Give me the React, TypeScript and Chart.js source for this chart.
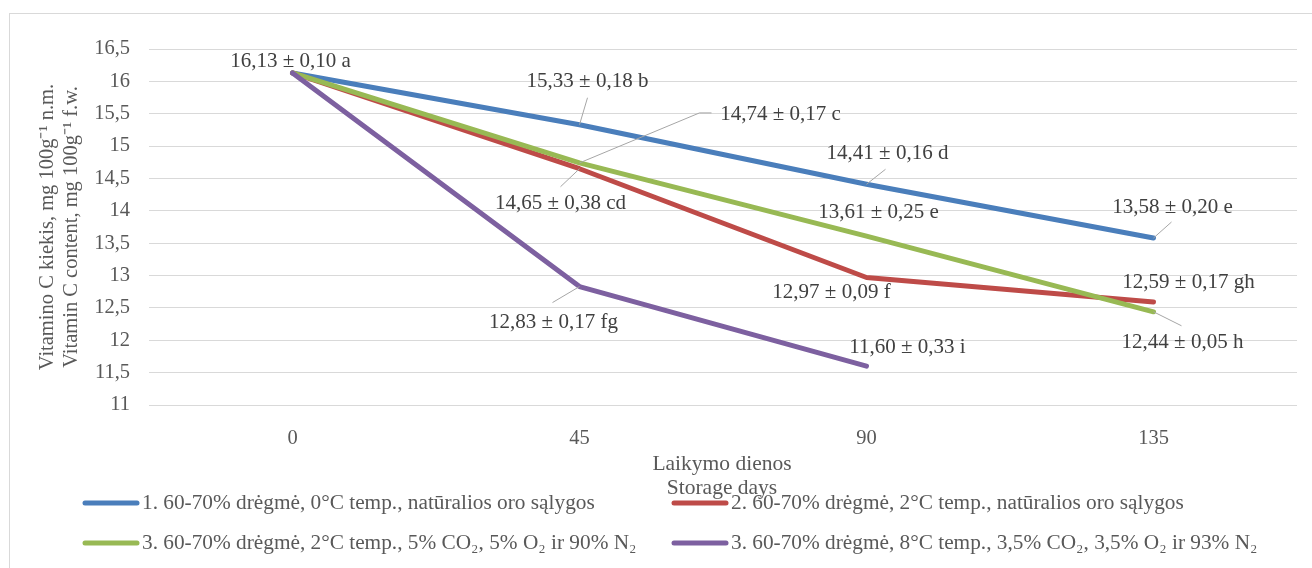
import React, { useEffect, useRef } from "react";
import { Chart, registerables } from "chart.js";

Chart.register(...registerables);

const categories = ["0", "45", "90", "135"];

const seriesNames = [
  "1. 60-70% drėgmė, 0°C temp., natūralios oro sąlygos",
  "2. 60-70% drėgmė, 2°C temp., natūralios oro sąlygos",
  "3. 60-70% drėgmė, 2°C temp., 5% CO₂, 5% O₂ ir 90% N₂",
  "3. 60-70% drėgmė, 8°C temp., 3,5% CO₂, 3,5% O₂ ir 93% N₂",
];

const series1 = [16.13, 15.33, 14.41, 13.58];
const series2 = [16.13, 14.65, 12.97, 12.59];
const series3 = [16.13, 14.74, 13.61, 12.44];
const series4 = [16.13, 12.83, 11.6, null];

const labels1 = ["16,13 ± 0,10 a", "15,33 ± 0,18 b", "14,41 ± 0,16 d", "13,58 ± 0,20 e"];
const labels2 = ["", "14,65 ± 0,38 cd", "12,97 ± 0,09 f", "12,59 ± 0,17 gh"];
const labels3 = ["", "14,74 ± 0,17 c", "13,61 ± 0,25 e", "12,44 ± 0,05 h"];
const labels4 = ["", "12,83 ± 0,17 fg", "11,60 ± 0,33 i", ""];

const yTicksMin = 11;
const yTicksMax = 16.5;
const yStep = 0.5;

const yTitle = ["Vitamino C kiekis, mg 100g⁻¹ n.m.", "Vitamin C content, mg 100g⁻¹ f.w."];
const xTitle = ["Laikymo dienos", "Storage days"];

const colors = ["#4a7ebb", "#be4b48", "#98b954", "#7d60a0"];

// label placement relative to data point (pixels): [series, index, dx, dy, leader points]
const placements: [number, number, number, number, number[][]][] = [
  [0, 0, -2, -11, []],
  [0, 1, 8, -43, [[8, -27]]],
  [2, 1, 201, -48, [[120, -50], [132, -50]]],
  [1, 1, -19, 35, [[-19, 18]]],
  [0, 2, 21, -31, [[19, -15]]],
  [2, 2, 12, -24, []],
  [1, 2, -35, 15, []],
  [0, 3, 19, -31, [[18, -16]]],
  [1, 3, 35, -20, []],
  [2, 3, 29, 31, [[28, 14]]],
  [3, 1, -26, 36, [[-27, 16]]],
  [3, 2, 41, -19, []],
];

const allLabels = [labels1, labels2, labels3, labels4];
const FONT = "'Liberation Serif', 'Times New Roman', serif";

const overlay = {
  id: "overlay",
  afterDraw(chart: any) {
    const ctx = chart.ctx;
    ctx.save();
    // border
    ctx.strokeStyle = "#d9d9d9";
    ctx.lineWidth = 1;
    ctx.strokeRect(9.5, 13.5, 1400, 700);

    // data labels
    ctx.font = `21px ${FONT}`;
    ctx.textAlign = "center";
    ctx.textBaseline = "middle";
    placements.forEach(([ds, idx, dx, dy, leader]) => {
      const meta = chart.getDatasetMeta(ds);
      const el = meta.data[idx];
      if (!el) return;
      const px = el.x;
      const py = el.y;
      if (leader.length) {
        ctx.strokeStyle = "#a6a6a6";
        ctx.lineWidth = 1;
        ctx.beginPath();
        ctx.moveTo(px, py);
        leader.forEach(([lx, ly]) => ctx.lineTo(px + lx, py + ly));
        ctx.stroke();
      }
      ctx.fillStyle = "#404040";
      ctx.fillText(allLabels[ds][idx], px + dx, py + dy);
    });

    // axis titles
    ctx.fillStyle = "#595959";
    ctx.font = `20.5px ${FONT}`;
    const area = chart.chartArea;
    const cy = (area.top + area.bottom) / 2;
    ctx.save();
    ctx.translate(48, cy);
    ctx.rotate(-Math.PI / 2);
    ctx.fillText(yTitle[0], 0, 0);
    ctx.fillText(yTitle[1], 0, 24);
    ctx.restore();
    ctx.font = `21.5px ${FONT}`;
    ctx.fillText(xTitle[0], 722, 464);
    ctx.fillText(xTitle[1], 722, 488);

    // legend
    const legendPos = [
      [83, 503],
      [672, 503],
      [83, 543],
      [672, 543],
    ];
    ctx.textAlign = "left";
    ctx.font = `21.3px ${FONT}`;
    seriesNames.forEach((name, i) => {
      const [lx, ly] = legendPos[i];
      ctx.strokeStyle = colors[i];
      ctx.lineWidth = 5;
      ctx.lineCap = "round";
      ctx.beginPath();
      ctx.moveTo(lx + 2, ly);
      ctx.lineTo(lx + 54, ly);
      ctx.stroke();
      ctx.fillStyle = "#595959";
      ctx.fillText(name, lx + 59, ly);
    });
    ctx.restore();
  },
};

export default function App() {
  const ref = useRef<HTMLCanvasElement>(null);
  useEffect(() => {
    document.body.style.margin = "0";
    const data = [series1, series2, series3, series4];
    const chart = new Chart(ref.current!, {
      type: "line",
      data: {
        labels: categories,
        datasets: data.map((d, i) => ({
          label: seriesNames[i],
          data: d,
          borderColor: colors[i],
          backgroundColor: colors[i],
          borderWidth: 5,
          borderCapStyle: "round",
          borderJoinStyle: "round",
          pointRadius: 0,
          tension: 0,
          order: 4 - i,
        })),
      },
      options: {
        responsive: false,
        animation: false,
        layout: { padding: { left: 0, top: 49, right: 15, bottom: 0 } },
        plugins: { legend: { display: false }, tooltip: { enabled: false } },
        scales: {
          x: {
            offset: true,
            grid: { display: false },
            border: { display: false },
            ticks: { color: "#595959", font: { family: FONT, size: 20.5 }, padding: 13 },
            afterFit: (s: any) => {
              s.height = 163;
            },
          },
          y: {
            min: yTicksMin,
            max: yTicksMax,
            grid: { color: "#d9d9d9", lineWidth: 1, drawTicks: false },
            border: { display: false },
            ticks: {
              stepSize: yStep,
              color: "#595959",
              font: { family: FONT, size: 20.5 },
              padding: 19,
              callback: (v: any) => String(v).replace(".", ","),
            },
            afterFit: (s: any) => {
              s.width = 149;
            },
          },
        },
      },
      plugins: [overlay],
    });
    return () => chart.destroy();
  }, []);
  return (
    <div style={{ width: 1312, height: 568 }}>
      <canvas ref={ref} width={1312} height={568} style={{ display: "block" }} />
    </div>
  );
}
